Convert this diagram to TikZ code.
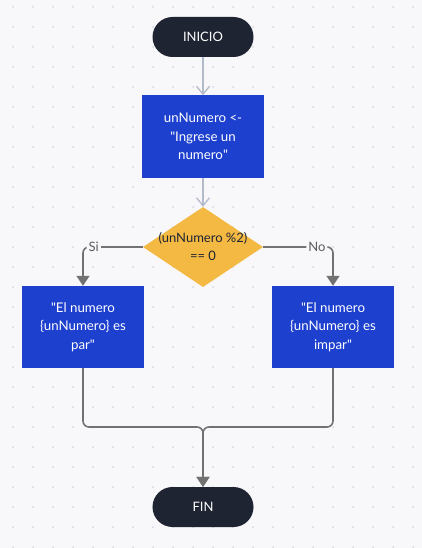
\documentclass[tikz,border=0pt]{standalone}
\usepackage{fontspec}
\setmainfont{Lato}
\usetikzlibrary{shapes.geometric,arrows.meta}
\definecolor{canvas}{HTML}{F8F8FA}
\definecolor{griddot}{HTML}{D6D6DE}
\definecolor{navy}{HTML}{1F2433}
\definecolor{procblue}{HTML}{1D40CE}
\definecolor{amber}{HTML}{F4B942}
\definecolor{lightline}{HTML}{B3BBCA}
\definecolor{darkline}{HTML}{727272}
\newcommand{\dq}{\textquotedbl}
\begin{document}
\begin{tikzpicture}[
    x=1pt, y={(0pt,-1pt)},
    terminal/.style={rectangle, rounded corners=20pt, fill=navy, text=white,
        minimum width=101pt, minimum height=40pt, font=\fontsize{13}{18}\selectfont},
    process/.style={rectangle, fill=procblue, text=white, align=center,
        minimum width=122pt, minimum height=82pt, font=\fontsize{13.3}{18.5}\selectfont},
    decision/.style={diamond, fill=amber, minimum width=120pt, minimum height=80pt,
        inner sep=0pt},
    decision text/.style={align=center, text=navy, font=\fontsize{13}{18}\selectfont},
    branch label/.style={fill=canvas, inner sep=2pt, text=darkline!80!black,
        font=\fontsize{13}{16}\selectfont},
    light/.style={draw=lightline, line width=1.3pt, -{Straight Barb[length=8pt, width=13pt]}},
    flow/.style={draw=darkline, line width=1.6pt, rounded corners=6pt,
        -{Triangle[length=10pt, width=13pt]}}
]
% background and dot grid
\fill[canvas] (0,0) rectangle (422,548);
\foreach \x in {13,33,...,413}
  \foreach \y in {7,27,...,547}
    \fill[griddot] (\x,\y) circle (1pt);

\node (Inicio) [terminal] at (203,37) {INICIO};
\node (Entrada) [process] at (203,136.5) {unNumero <-\\\dq Ingrese un\\numero\dq};
\node (Decision) [decision] at (203,247)
  {};
\node (DecisionText) [decision text] at (Decision) {(unNumero \%2)\\== 0};
\node (Par) [process] at (83,327) {\dq El numero\\\{unNumero\} es\\par\dq};
\node (Impar) [process] at (333,327) {\dq El numero\\\{unNumero\} es\\impar\dq};
\node (Fin) [terminal] at (203,507) {FIN};
\coordinate (Union) at (203,427);

\draw[light] (Inicio) -- (Entrada);
\draw[light] (Entrada) -- (Decision);

\draw[flow] (Decision.west) -| node[branch label, pos=0.41] {Si} (Par.north);
\draw[flow] (Decision.east) -| node[branch label, pos=0.385] {No} (Impar.north);

\draw[flow] (Par.south) |- (Union) -- (Fin.north);
\draw[flow] (Impar.south) |- (Union) -- (Fin.north);

\end{tikzpicture}
\end{document}
